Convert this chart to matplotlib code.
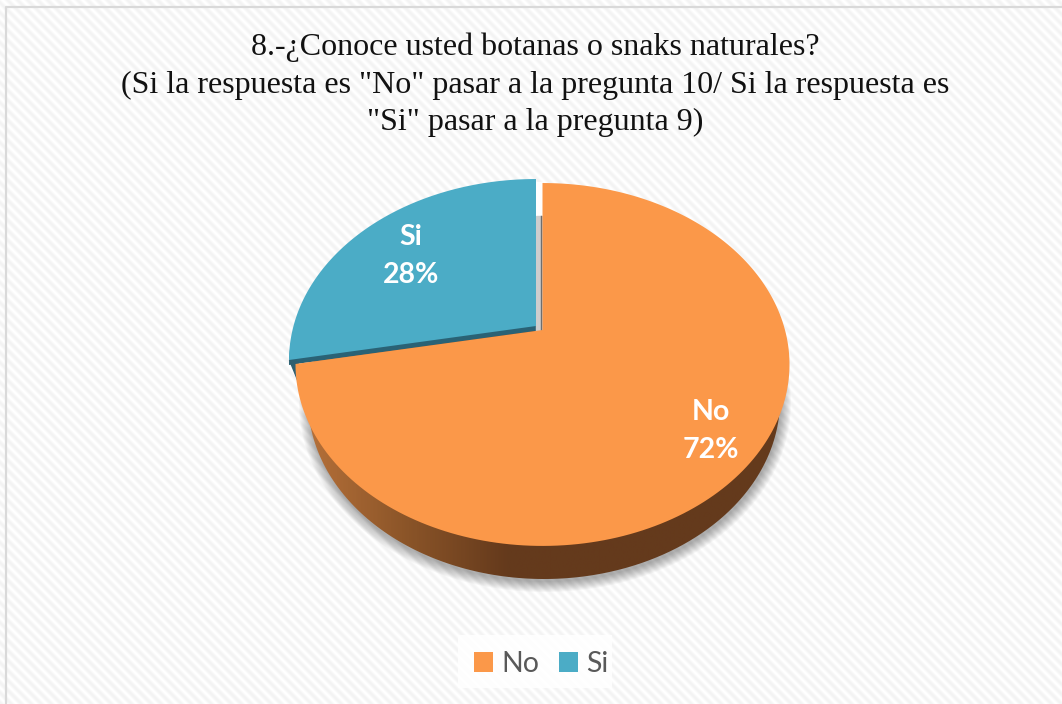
"""Recreate the survey pie chart with its tilted 3D look."""
import matplotlib
matplotlib.use("Agg")
import matplotlib.pyplot as plt
from matplotlib.colors import LinearSegmentedColormap
from matplotlib.patches import Patch, Polygon
import numpy as np

# Chart data
categories = ["No", "Si"]
percentages = [72, 28]
title_lines = [
    "8.-¿Conoce usted botanas o snaks naturales?",
    '(Si la respuesta es "No" pasar a la pregunta 10/ Si la respuesta es',
    '"Si" pasar a la pregunta 9)',
]

ORANGE = "#FB9849"
BLUE = "#4BACC6"
DARK_BLUE = "#2A6275"
W, H = 1062, 704


def project(theta, radius=1.0, x0=542.5, y0=330.0, a=242.5, b=174.9, k=0.19):
    """Tilt a unit circle: angle is clockwise from the top, output in pixels."""
    x = radius * np.sin(theta)
    y = radius * np.cos(theta)
    w = 1 + k * y
    return x0 + a * x / w, y0 - b * y / w


def wedge(start, end):
    """Outline of a pie slice on the tilted disc."""
    theta = np.linspace(start, end, 200)
    xs, ys = project(theta)
    cx, cy = project(0.0, radius=0.0)
    return np.column_stack([np.r_[cx, xs], np.r_[cy, ys]])


def ellipse(cx, cy, rx, ry):
    t = np.linspace(0, 2 * np.pi, 300)
    return np.column_stack([cx + rx * np.cos(t), cy + ry * np.sin(t)])


fig = plt.figure(figsize=(W / 100, H / 100), dpi=100)
ax = fig.add_axes([0, 0, 1, 1])
ax.set_xlim(0, W)
ax.set_ylim(H, 0)
ax.axis("off")

# Background stripes
yy, xx = np.mgrid[0:H, 0:W]
stripes = 0.5 + 0.5 * np.sin(2 * np.pi * (xx - yy) / 10.0)
stripe_map = LinearSegmentedColormap.from_list("stripes", ["#F3F3F3", "#FFFFFF"])
ax.imshow(stripes, cmap=stripe_map, extent=(0, W, H, 0), aspect="auto", zorder=0)
ax.plot([5.5, 5.5, W], [H, 6.5, 6.5], color="#D9D9D9", lw=1.6, zorder=1)

# Soft shadow under the disc
for i in range(11):
    ax.add_patch(Polygon(ellipse(545, 403, 236 + i, 179 + i), closed=True,
                         fc="black", ec="none", alpha=0.03, zorder=2))

# Side wall, shaded from left to right
wall = Polygon(ellipse(544, 400, 236, 179), closed=True, fc="none", ec="none", zorder=3)
ax.add_patch(wall)
wall_map = LinearSegmentedColormap.from_list(
    "wall", [(0, "#B8723A"), (0.22, "#8A5428"), (0.42, "#653A1C"), (1, "#643A1C")])
shade = ax.imshow(np.linspace(0, 1, 400)[None, :], cmap=wall_map,
                  extent=(300, 790, 600, 300), aspect="auto", zorder=3)
shade.set_clip_path(wall)
ax.set_xlim(0, W)
ax.set_ylim(H, 0)

# Pie slices, angles come from the values
fractions = np.array(percentages) / sum(percentages)
edges = np.r_[0, np.cumsum(fractions)] * 2 * np.pi
no_outline = wedge(edges[0], edges[1])
si_outline = wedge(edges[1], edges[2]) + np.array([-6.5, -4.0])

ax.add_patch(Polygon(si_outline + np.array([0, 5.0]), closed=True, fc=DARK_BLUE, ec="none", zorder=4))
ax.fill([289.5, 298, 298], [360, 362, 381], color="#2F5F70", zorder=4)
ax.fill([536, 541.5, 541.5, 536], [182, 182, 216, 216], color="white", zorder=4)
ax.fill([536, 541.5, 541.5, 536], [216, 216, 332, 332], color="#CDCDCD", zorder=4)
ax.plot([541, 541], [216, 330], color="#6E6E6E", lw=1.0, zorder=4)
ax.add_patch(Polygon(si_outline, closed=True, fc=BLUE, ec="none", zorder=5))
ax.add_patch(Polygon(no_outline, closed=True, fc=ORANGE, ec="none", zorder=6))

# Data labels
label_pos = [(711, 431), (411, 256)]
for name, pct, (lx, ly) in zip(categories, percentages, label_pos):
    ax.text(lx, ly, f"{name}\n{pct}%", color="white", fontsize=20.5, fontweight="bold",
            family="Lato", ha="center", va="center", linespacing=1.6, zorder=7)

# Title
for line, ty in zip(title_lines, [47, 85, 122]):
    ax.text(535, ty, line, family="Liberation Serif", fontsize=23.0, color="#111111",
            ha="center", va="center", zorder=7)

# Legend, the white box sits a little off-centre behind the entries
ax.fill([458, 612, 612, 458], [635, 635, 688, 688], color="white", alpha=0.85, ec="none", zorder=7)
handles = [Patch(fc=c, ec="none") for c in [ORANGE, BLUE]]
leg = ax.legend(handles, categories, ncol=2, loc="center", bbox_to_anchor=(541 / W, 1 - 664 / H),
                frameon=False, handlelength=0.68, handleheight=0.68, handletextpad=0.29,
                columnspacing=0.68, prop={"family": "Lato", "size": 20.5}, labelcolor="#595959",
                borderpad=0.42, borderaxespad=0)
leg.set_zorder(8)

fig.savefig("out.png", dpi=100)
